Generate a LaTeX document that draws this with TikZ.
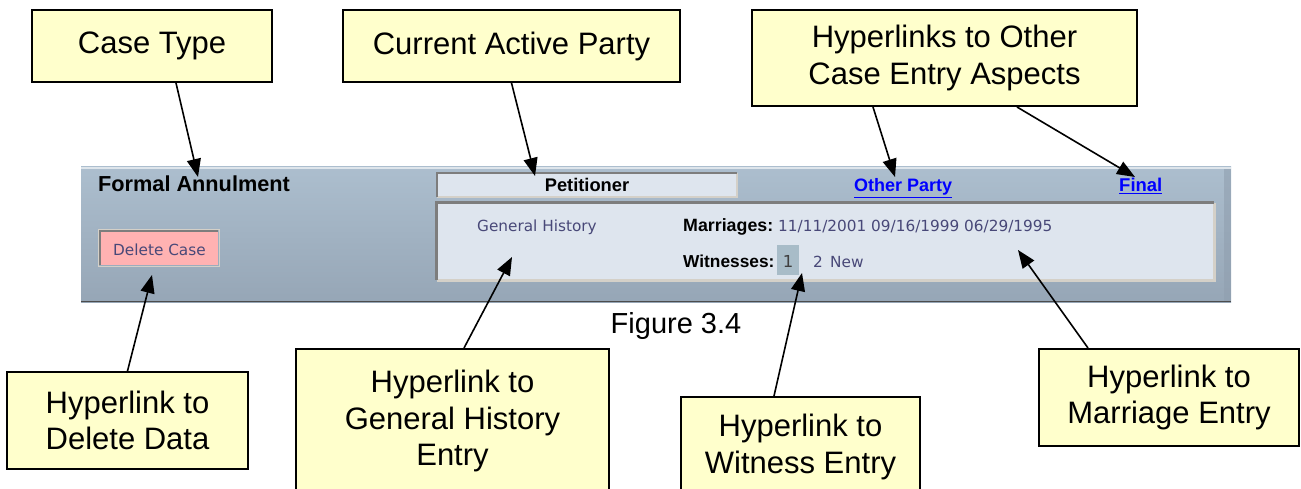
\documentclass[tikz,border=0pt]{standalone}
\usepackage{fontspec}
\setmainfont{Liberation Sans}
\newfontfamily\uifont{DejaVu Sans}
\usetikzlibrary{arrows.meta}
\definecolor{callfill}{HTML}{FFFFCC}
\definecolor{uitext}{RGB}{72,72,120}
\definecolor{paneltop}{RGB}{172,190,206}
\definecolor{panelbot}{RGB}{150,166,182}
\definecolor{boxfill}{RGB}{222,229,238}
\definecolor{darkedge}{RGB}{125,125,125}
\definecolor{lightedge}{RGB}{212,208,200}
\definecolor{btnpink}{RGB}{255,178,178}
\definecolor{linkblue}{RGB}{0,0,255}
\definecolor{selbg}{RGB}{168,188,200}
\begin{document}
\begin{tikzpicture}[x=1pt,y=-1pt,
  callout/.style={draw=black, line width=2pt, fill=callfill, align=center,
    font=\fontsize{31}{36.5}\selectfont, inner sep=0pt},
  pointer/.style={line width=1.6pt, -{Triangle[length=18pt,width=14pt]}},
  uilabel/.style={font=\uifont\fontsize{15.3}{18}\selectfont, text=uitext, inner sep=0pt, anchor=base west},
  uibold/.style={font=\bfseries\fontsize{17.8}{20}\selectfont, inner sep=0pt, anchor=base west},
  inset/.style={fill=boxfill, inner sep=0pt},
]
\useasboundingbox (0,0) rectangle (1301,489);
\clip (0,0) rectangle (1301,489);

% ---- application panel ----
\shade[top color=paneltop, bottom color=panelbot] (81,167) rectangle (1231,302);
\fill[black!4!panelbot, opacity=0.6] (1224,167) rectangle (1231,302);
\draw[white!60!paneltop, line width=1.5pt] (81,167.8) -- (1231,167.8);
\draw[black!70, line width=1.5pt] (81,301.3) -- (1231,301.3);

% petitioner box
\node[inset, minimum width=300pt, minimum height=24pt] (petbox) at (587,185) {};
\draw[lightedge, line width=2pt] (petbox.south west) -| (petbox.north east);
\draw[darkedge, line width=2pt] (petbox.south west) |- (petbox.north east);
\node[font=\bfseries\fontsize{18.3}{20}\selectfont, anchor=base, inner sep=0pt] (pet) at (587,192) {Petitioner};

% lower box
\node[inset, minimum width=777pt, minimum height=77pt] (lowbox) at (825.5,241.5) {};
\draw[lightedge, line width=3pt] (lowbox.south west) -| (lowbox.north east);
\draw[darkedge, line width=3pt] (lowbox.south west) |- (lowbox.north east);

% texts of panel
\node[uibold, font=\bfseries\fontsize{21.7}{24}\selectfont] (ftype) at (98,192) {Formal Annulment};
\node[uibold, text=linkblue, font=\bfseries\fontsize{18}{20}\selectfont] (other) at (854,192) {\underline{Other Party}};
\node[uibold, text=linkblue, font=\bfseries\fontsize{18.5}{20}\selectfont] (final) at (1119,192) {\underline{Final}};
\node[uilabel] (genhist) at (477,232) {General History};
\node[uibold] (marr) at (683,232) {Marriages:};
\node[uilabel] (dates) at (778,232) {11/11/2001 09/16/1999 06/29/1995};
\node[uibold, font=\bfseries\fontsize{17.3}{20}\selectfont] (witn) at (683,267) {Witnesses:};
\node[fill=selbg, minimum width=22pt, minimum height=30pt, inner sep=0pt] (selbox) at (788,260) {};
\node[uilabel, anchor=base, text=black!75, font=\uifont\fontsize{16.5}{18}\selectfont] (w1) at (788,267) {1};
\node[uilabel] (w2) at (813,267) {2};
\node[uilabel] (wnew) at (830,267) {New};

% delete case button
\node[fill=btnpink, minimum width=118pt, minimum height=34pt, inner sep=0pt] (delbtn) at (159,248) {};
\draw[lightedge, line width=1.5pt] (98.5,229.5) rectangle (219.5,266.5);
\draw[darkedge, line width=2pt] (delbtn.south west) |- (delbtn.north east);
\node[uilabel] (deltext) at (113,255) {Delete Case};

% caption
\node[font=\fontsize{29}{30}\selectfont, anchor=base, inner sep=0pt] (fig) at (676,333) {Figure 3.4};

% ---- callouts ----
\node[callout, minimum width=240pt, minimum height=72pt] (ct) at (152,46) {Case Type};
\node[callout, minimum width=337pt, minimum height=72pt] (cap) at (511.5,46) {Current Active Party};
\node[callout, minimum width=385pt, minimum height=96pt] (hyp) at (944.5,58) {Hyperlinks to Other\\Case Entry Aspects};
\node[callout, minimum width=241pt, minimum height=97pt] (del) at (127.5,420.5) {Hyperlink to\\Delete Data};
\node[callout, minimum width=313pt, minimum height=144pt] (gen) at (452.5,421) {Hyperlink to\\General History\\Entry};
\node[callout, minimum width=239pt, minimum height=100pt] (wit) at (800.5,447) {Hyperlink to\\Witness Entry};
\node[callout, minimum width=260pt, minimum height=97pt] (mar) at (1169,397.5) {Hyperlink to\\Marriage Entry};

% ---- pointer tips ----
\coordinate (tipct) at (198,177);
\coordinate (tipcap) at (535,176);
\coordinate (tipother) at (895,177);
\coordinate (tipfinal) at (1135,177);
\coordinate (tipdel) at (152,275);
\coordinate (tipgen) at (512,257);
\coordinate (tipwit) at (802,273);
\coordinate (tipmar) at (1018,250);

\draw[pointer] ([xshift=24pt]ct.south) -- (tipct);
\draw[pointer] (cap.south) -- (tipcap);
\draw[pointer] ([xshift=-71.5pt]hyp.south) -- (tipother);
\draw[pointer] ([xshift=72.5pt]hyp.south) -- (tipfinal);
\draw[pointer] (del.north) -- (tipdel);
\draw[pointer] ([xshift=11.5pt]gen.north) -- (tipgen);
\draw[pointer] ([xshift=-26.5pt]wit.north) -- (tipwit);
\draw[pointer] ([xshift=-81pt]mar.north) -- (tipmar);
\end{tikzpicture}
\end{document}
